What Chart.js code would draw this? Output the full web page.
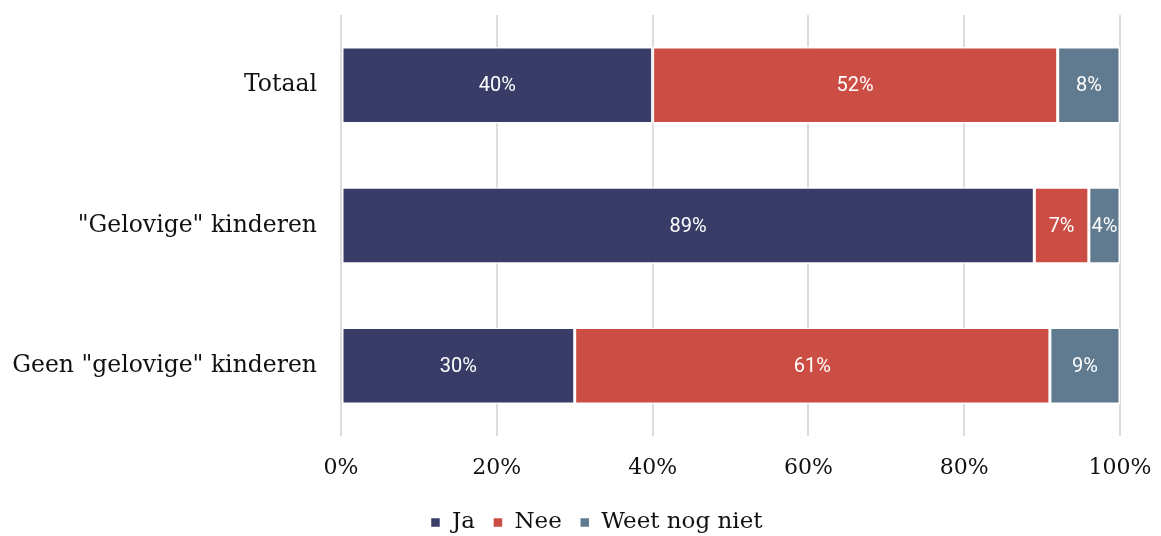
<!DOCTYPE html>
<html>
<head>
<meta charset="utf-8">
<script src="https://cdn.jsdelivr.net/npm/chart.js@4/dist/chart.umd.min.js"></script>
<style>
    html, body { margin: 0; padding: 0; background: #fff; }
    #wrap { width: 1161px; height: 536px; }
</style>
</head>
<body>
<div id="wrap"><canvas id="ourChart" width="1161" height="536"></canvas></div>
<script>
var categories = ['Totaal', '"Gelovige" kinderen', 'Geen "gelovige" kinderen'];
var seriesNames = ['Ja', 'Nee', 'Weet nog niet'];
var ja = [40, 89, 30];
var nee = [52, 7, 61];
var weetNiet = [8, 4, 9];
var xTicks = [0, 20, 40, 60, 80, 100];

var serif = "'DejaVu Serif', serif";

// simple labels in the middle of each segment
var barLabels = {
    id: 'barLabels',
    afterDatasetsDraw: function (chart) {
        var ctx = chart.ctx;
        ctx.save();
        ctx.fillStyle = '#ffffff';
        ctx.font = '20px Roboto';
        ctx.textAlign = 'center';
        ctx.textBaseline = 'middle';
        chart.data.datasets.forEach(function (ds, i) {
            chart.getDatasetMeta(i).data.forEach(function (bar, j) {
                var p = bar.getCenterPoint();
                ctx.fillText(ds.data[j] + '%', p.x, p.y + 1);
            });
        });
        ctx.restore();
    }
};

// legend sits a bit right of the canvas middle in the original
var legendShift = {
    id: 'legendShift',
    afterLayout: function (chart) {
        if (chart.legend) {
            chart.legend.left += 32;
        }
    }
};

var chartElement = new Chart(document.getElementById('ourChart'), {
    type: 'bar',
    data: {
        labels: categories,
        datasets: [
            {
                label: seriesNames[0],
                data: ja,
                backgroundColor: '#383c67',
                borderColor: '#ffffff',
                borderWidth: 1.5,
                borderSkipped: false
            },
            {
                label: seriesNames[1],
                data: nee,
                backgroundColor: '#cb4d44',
                borderColor: '#ffffff',
                borderWidth: 1.5,
                borderSkipped: false
            },
            {
                label: seriesNames[2],
                data: weetNiet,
                backgroundColor: '#607b8f',
                borderColor: '#ffffff',
                borderWidth: 1.5,
                borderSkipped: false
            }
        ]
    },
    options: {
        indexAxis: 'y',
        responsive: false,
        animation: false,
        categoryPercentage: 1,
        barPercentage: 0.545,
        layout: {
            padding: { top: 15, right: 0, bottom: -8, left: 0 }
        },
        scales: {
            x: {
                stacked: true,
                min: 0,
                max: 100,
                afterBuildTicks: function (scale) {
                    scale.ticks = xTicks.map(function (v) { return { value: v }; });
                },
                ticks: {
                    callback: function (v) { return v + '%'; },
                    color: '#111111',
                    font: { family: serif, size: 22 },
                    padding: 19,
                    maxRotation: 0
                },
                grid: {
                    color: '#dcdcdc',
                    lineWidth: 2,
                    drawTicks: false
                },
                border: { display: false },
                afterFit: function (scale) {
                    scale.height = 57;
                    scale.paddingLeft = 0;
                    scale.paddingRight = 41;
                }
            },
            y: {
                stacked: true,
                ticks: {
                    color: '#111111',
                    font: { family: serif, size: 23.5 },
                    padding: 16
                },
                grid: { display: false },
                border: { display: false },
                afterFit: function (scale) {
                    scale.width = 341;
                    scale.paddingTop = 0;
                    scale.paddingBottom = 0;
                }
            }
        },
        plugins: {
            legend: {
                display: true,
                position: 'bottom',
                labels: {
                    boxWidth: 10,
                    boxHeight: 10,
                    padding: 18,
                    color: '#111111',
                    font: { family: serif, size: 23 }
                }
            },
            tooltip: { enabled: false }
        }
    },
    plugins: [barLabels, legendShift]
});
</script>
</body>
</html>
